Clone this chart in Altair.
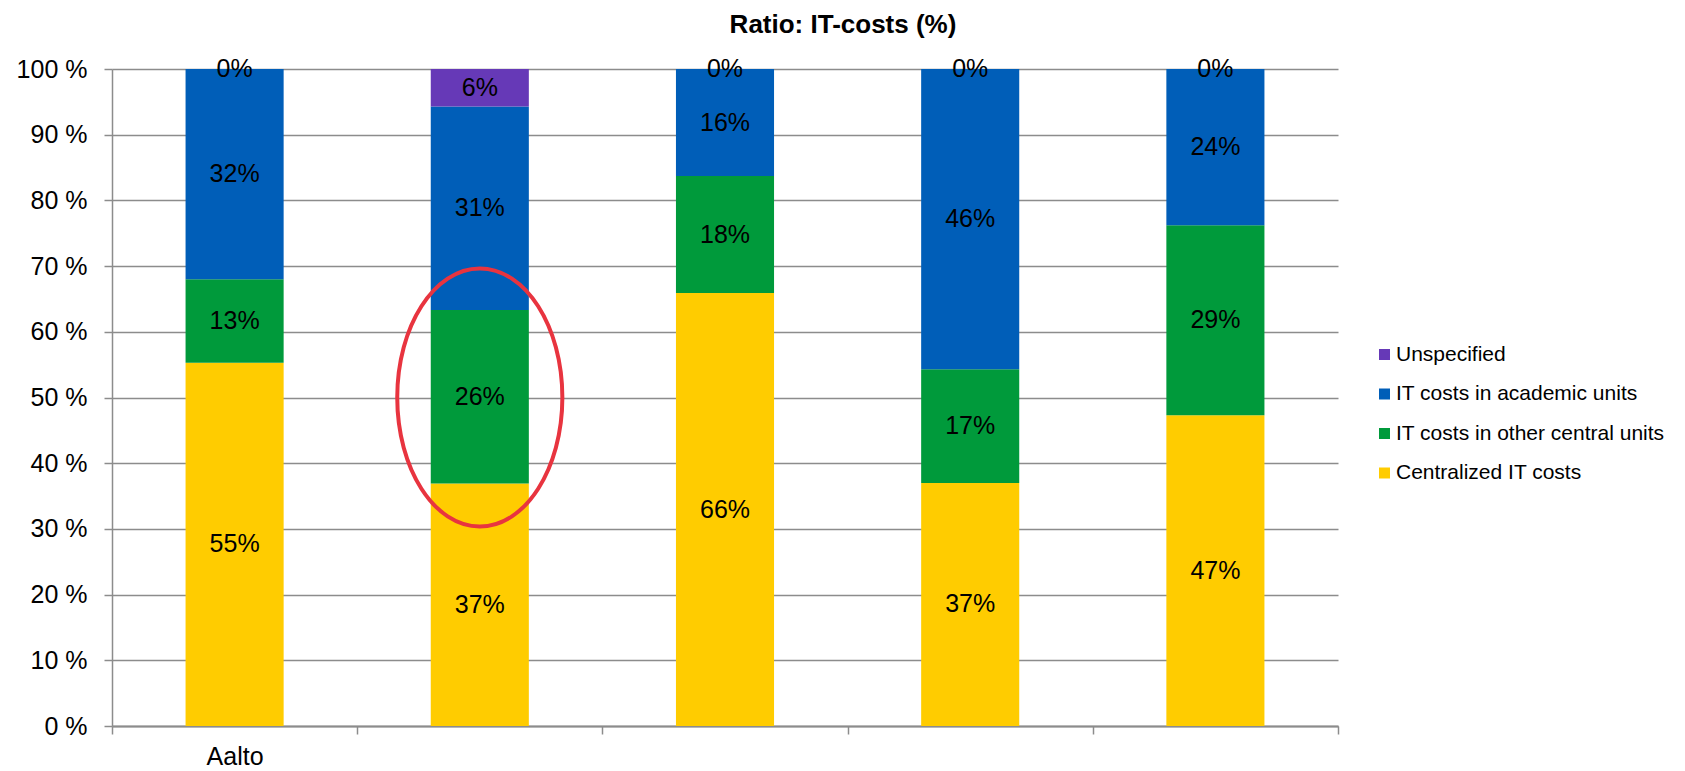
import altair as alt
import pandas as pd

# ---- data ----
categories = ["Aalto", " ", "  ", "   ", "    "]
series = ["Unspecified", "IT costs in academic units", "IT costs in other central units", "Centralized IT costs"]
colors = ["#6639B7", "#005EB8", "#009A3B", "#FFCC00"]

centralized = [55.3, 36.9, 65.9, 37.0, 47.3]
other_central = [12.7, 26.4, 17.8, 17.3, 28.9]
academic = [32.0, 31.0, 16.3, 45.7, 23.8]
unspecified = [0.0, 5.7, 0.0, 0.0, 0.0]

y_ticks = [0, 10, 20, 30, 40, 50, 60, 70, 80, 90, 100]

# annotation (red ellipse around 2nd bar's green segment)
ann_cat = [" "]
ann_y = [50]

rows = []
for i, c in enumerate(categories):
    for s, vals, o in [
        ("Centralized IT costs", centralized, 0),
        ("IT costs in other central units", other_central, 1),
        ("IT costs in academic units", academic, 2),
        ("Unspecified", unspecified, 3),
    ]:
        rows.append({"cat": c, "series": s, "value": vals[i], "ord": o})
df = pd.DataFrame(rows)
ann = pd.DataFrame({"cat": ann_cat, "y": ann_y})

FONT = "Liberation Sans"
GRID = "#8C8C8C"

x_axis = alt.Axis(
    title=None, labelAngle=0, labelFontSize=25, labelFont=FONT, labelColor="black",
    tickBand="extent", tickSize=8, tickColor=GRID, tickWidth=1.5,
    domainColor=GRID, domainWidth=2, labelPadding=10, grid=False,
)
x_scale = alt.Scale(paddingInner=0, paddingOuter=0)

y_axis = alt.Axis(
    title=None, values=y_ticks, labelExpr="datum.value + ' %'",
    labelFontSize=25, labelFont=FONT, labelColor="black", labelPadding=17,
    tickSize=8, tickColor=GRID, tickWidth=1.5,
    domainColor=GRID, domainWidth=1.5,
    grid=True, gridColor=GRID, gridWidth=1.5,
)
ysc = alt.Scale(domain=[0, 100], nice=False)


def xe():
    return alt.X("cat:N", sort=categories, scale=x_scale, axis=x_axis)


bars = alt.Chart(df).mark_bar(width=alt.RelativeBandSize(0.4)).encode(
    x=xe(),
    y=alt.Y("value:Q", stack="zero", scale=ysc, axis=y_axis),
    color=alt.Color(
        "series:N",
        scale=alt.Scale(domain=series, range=colors),
        legend=alt.Legend(
            title=None, orient="none", legendX=1262, legendY=275,
            symbolType="square", symbolSize=121, symbolStrokeWidth=0,
            labelFontSize=21, labelFont=FONT, labelColor="black", labelLimit=500,
            rowPadding=17.5, padding=0, labelOffset=1,
        ),
    ),
    order=alt.Order("ord:Q"),
)

text = alt.Chart(df).transform_stack(
    stack="value", groupby=["cat"], sort=[alt.SortField("ord")], as_=["y0", "y1"]
).transform_calculate(
    mid="(datum.y0 + datum.y1) / 2",
    lab="format(round(datum.value), 'd') + '%'",
).mark_text(fontSize=25, font=FONT, color="black", baseline="middle", align="center").encode(
    x=xe(),
    y=alt.Y("mid:Q", scale=ysc, axis=y_axis),
    text="lab:N",
)

ellipse = alt.Chart(ann).mark_point(
    shape="M -0.64 0 A 0.64 1 0 1 0 0.64 0 A 0.64 1 0 1 0 -0.64 0 Z",
    size=66564, filled=False, stroke="#E8343F", strokeWidth=4, opacity=1,
).encode(
    x=xe(),
    y=alt.Y("y:Q", scale=ysc, axis=y_axis),
)

chart = alt.layer(bars, text, ellipse).properties(
    width=1226,
    height=657,
    padding={"left": 104, "top": 61, "right": 339, "bottom": 45},
    autosize=alt.AutoSizeParams(type="none"),
    title=alt.TitleParams(
        "Ratio: IT-costs (%)", anchor="middle", dx=118, offset=19,
        fontSize=26, fontWeight="bold", font=FONT, color="black",
    ),
).configure_view(stroke=None)

chart.save("out.html", embed_options={"renderer": "svg", "actions": False})
